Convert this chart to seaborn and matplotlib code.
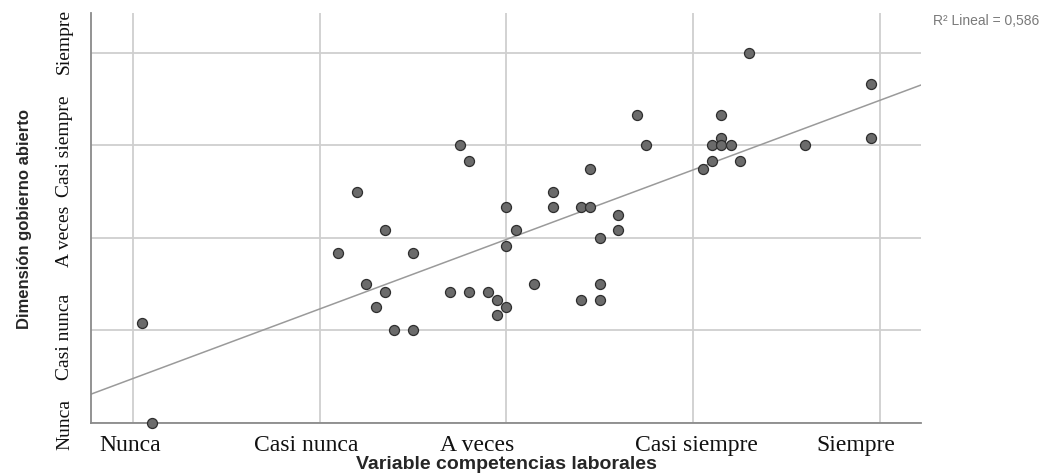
import numpy as np
import pandas as pd
import matplotlib
matplotlib.use("Agg")
import matplotlib.pyplot as plt
import seaborn as sns

# Mean scores per respondent (1 = Nunca ... 5 = Siempre)
competencias = [1.05, 1.10, 2.10, 2.20, 2.25, 2.30, 2.35, 2.35, 2.40, 2.50,
                2.50, 2.70, 2.75, 2.80, 2.80, 2.90, 2.95, 2.95, 3.00, 3.00,
                3.00, 3.05, 3.15, 3.25, 3.25, 3.40, 3.40, 3.45, 3.45, 3.50,
                3.50, 3.50, 3.60, 3.60, 3.70, 3.75, 4.05, 4.10, 4.10, 4.15,
                4.15, 4.15, 4.20, 4.25, 4.30, 4.60, 4.95, 4.95]
gobierno = [2.083, 1.000, 2.833, 3.500, 2.500, 2.250, 3.083, 2.417, 2.000, 2.833,
            2.000, 2.417, 4.000, 3.833, 2.417, 2.417, 2.333, 2.167, 3.333, 2.917,
            2.250, 3.083, 2.500, 3.500, 3.333, 3.333, 2.333, 3.750, 3.333, 3.000,
            2.500, 2.333, 3.250, 3.083, 4.333, 4.000, 3.750, 4.000, 3.833, 4.333,
            4.083, 4.000, 4.000, 3.833, 5.000, 4.000, 4.667, 4.083]

scale_labels = ["Nunca", "Casi nunca", "A veces", "Casi siempre", "Siempre"]
scale_values = [1, 2, 3, 4, 5]
r2_text = "R² Lineal = 0,586"

df = pd.DataFrame({"x": competencias, "y": gobierno})

sns.set_style("white")
fig = plt.figure(figsize=(10.54, 4.77), dpi=100)
ax = fig.add_axes([0.0863, 0.1111, 0.7875, 0.8595])

# reference grid at the scale anchors
ax.set_xticks(scale_values)
ax.set_yticks(scale_values)
ax.set_xticklabels([])
ax.set_yticklabels([])
ax.grid(True, which="major", color="#cfcfcf", linewidth=1.3)
ax.set_axisbelow(True)

# category labels sit slightly off the grid anchors
ax.xaxis.remove_overlapping_locs = False
ax.yaxis.remove_overlapping_locs = False
xlab_pos = [0.984, 1.926, 2.842, 4.02, 4.87]
ylab_pos = [1.0, 1.94, 3.03, 4.005, 5.13]
ax.set_xticks(xlab_pos, minor=True)
ax.set_yticks(ylab_pos, minor=True)
ax.set_xticklabels(scale_labels, minor=True, fontfamily="Liberation Serif",
                   fontsize=17, color="#111111")
ax.set_yticklabels(scale_labels, minor=True, fontfamily="Liberation Serif",
                   fontsize=14, color="#111111", rotation=90, va="center")
ax.tick_params(axis="both", which="both", length=0)
ax.tick_params(axis="x", which="minor", pad=8)
ax.tick_params(axis="y", which="minor", pad=13)

ax.set_xlim(0.775, 5.22)
ax.set_ylim(1.0, 5.43)

sns.regplot(data=df, x="x", y="y", ax=ax, scatter=False, ci=None,
            truncate=False, line_kws=dict(color="#9a9a9a", linewidth=1.1))
sns.scatterplot(data=df, x="x", y="y", ax=ax, color="#6b6b6b",
                edgecolor="#2e2e2e", linewidth=0.9, s=52, zorder=4,
                clip_on=False)
ax.set_xlim(0.775, 5.22)
ax.set_ylim(1.0, 5.43)

for side in ("top", "right"):
    ax.spines[side].set_visible(False)
for side in ("left", "bottom"):
    ax.spines[side].set_color("#8a8a8a")
    ax.spines[side].set_linewidth(1.3)

ax.set_xlabel("Variable competencias laborales", fontfamily="Liberation Sans",
              fontweight="bold", fontsize=14, labelpad=0)
ax.set_ylabel("Dimensión gobierno abierto", fontfamily="Liberation Sans",
              fontweight="bold", fontsize=12, labelpad=17)

fig.text(0.936, 0.955, r2_text, fontfamily="Liberation Sans", fontsize=10,
         color="#7a7a7a", ha="center", va="center")

fig.savefig("out.png", dpi=100)
